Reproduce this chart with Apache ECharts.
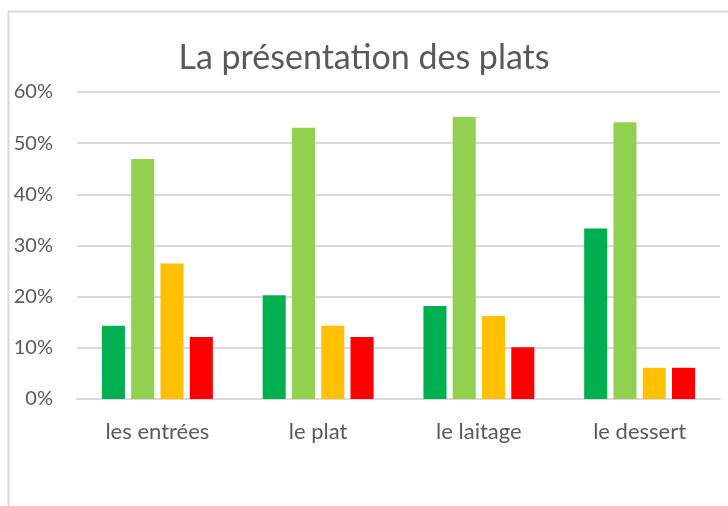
<!DOCTYPE html>
<html>
<head>
<meta charset="utf-8">
<script src="https://cdn.jsdelivr.net/npm/echarts@6/dist/echarts.min.js"></script>
<style>
  html, body { margin: 0; padding: 0; background: #fff; }
  #chart { width: 728px; height: 506px; }
</style>
</head>
<body>
<div id="chart"></div>
<script>
  var categories = ['les entrées', 'le plat', 'le laitage', 'le dessert'];
  var darkGreen = [14.3, 20.3, 18.2, 33.3];
  var lightGreen = [46.9, 53.0, 55.1, 54.1];
  var yellow = [26.5, 14.3, 16.2, 6.1];
  var red = [12.1, 12.1, 10.1, 6.1];
  var yTicks = [0, 10, 20, 30, 40, 50, 60];

  var font = 'Lato';
  var chart = echarts.init(document.getElementById('chart'));

  function bar(name, data, color) {
    return {
      name: name,
      type: 'bar',
      data: data,
      barGap: '27%',
      barCategoryGap: '31%',
      itemStyle: { color: color },
      silent: true
    };
  }

  chart.setOption({
    animation: false,
    title: {
      text: 'La présentation des plats',
      left: 'center',
      top: 36,
      padding: [5, 5, 5, 27],
      textStyle: { fontFamily: font, fontSize: 34, fontWeight: 'normal', color: '#595959' }
    },
    graphic: [{
      type: 'rect',
      shape: { x: 8.5, y: 11.5, width: 800, height: 600 },
      style: { fill: 'none', stroke: '#D9D9D9', lineWidth: 2 },
      silent: true
    }],
    grid: { left: 77, right: 8, top: 92, bottom: 107 },
    xAxis: {
      type: 'category',
      data: categories,
      axisTick: { show: false },
      axisLine: { lineStyle: { color: '#D9D9D9', width: 2 } },
      axisLabel: { fontFamily: font, fontSize: 22, color: '#595959', margin: 22 }
    },
    yAxis: {
      type: 'value',
      min: yTicks[0],
      max: yTicks[yTicks.length - 1],
      interval: 10,
      axisLine: { show: false },
      axisTick: { show: false },
      splitLine: { lineStyle: { color: '#D9D9D9', width: 2 } },
      axisLabel: {
        fontFamily: font, fontSize: 20, color: '#595959', margin: 24,
        formatter: '{value}%'
      }
    },
    series: [
      bar('Très bien', darkGreen, '#00B050'),
      bar('Bien', lightGreen, '#92D050'),
      bar('Moyen', yellow, '#FFC000'),
      bar('Mauvais', red, '#FF0000')
    ]
  });
</script>
</body>
</html>
